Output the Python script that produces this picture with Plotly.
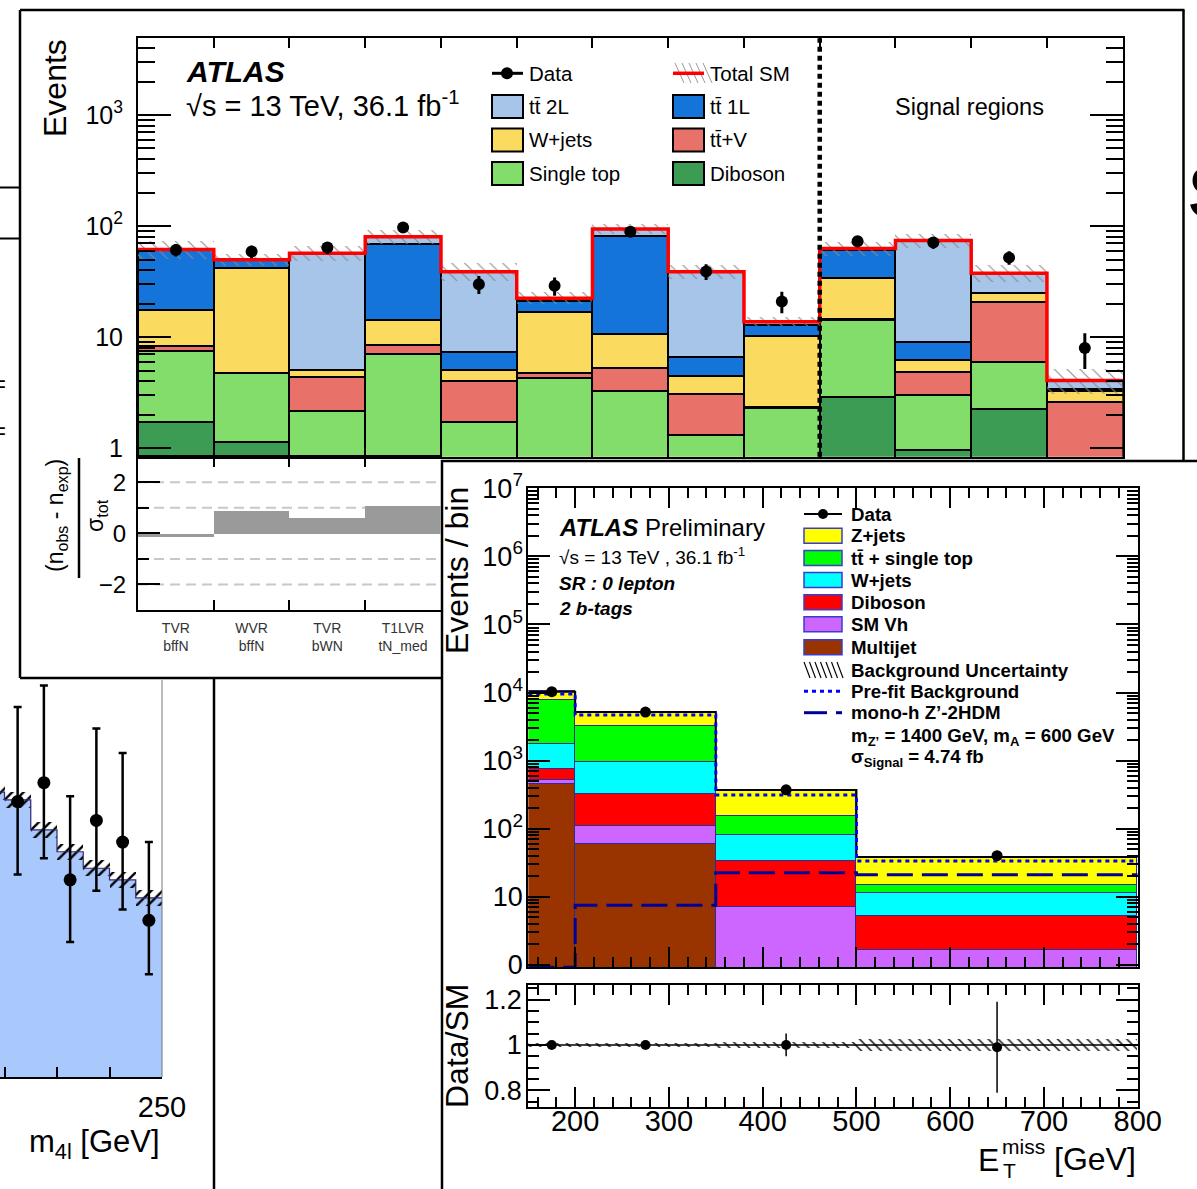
import numpy as np
import plotly.graph_objects as go

W, H = 1197, 1189
FONT = "Liberation Sans, Arial, Helvetica, sans-serif"


def fx(x):
    return x / W


def fy(y):
    return 1 - y / H


# ---------------- m4l spectrum (partly hidden panel) ----------------
m4l_edges = [215, 220, 225, 230, 235, 240, 245, 250]
m4l_bkg = [10.55, 10.26, 9.15, 8.34, 7.73, 7.30, 6.63]
m4l_bkg_unc = [0.30, 0.30, 0.30, 0.30, 0.30, 0.30, 0.30]
m4l_data_x = [222.5, 227.5, 232.5, 237.5, 242.5, 247.5]
m4l_data = [10.2, 10.9, 7.3, 9.5, 8.7, 5.8]
m4l_err_up = [3.5, 3.6, 3.1, 3.4, 3.3, 2.9]
m4l_err_dn = [2.7, 2.8, 2.3, 2.6, 2.5, 2.0]

# ---------------- stop 1L: validation + signal regions ----------------
sr_data = [61, 59, 64, 97, 30, 29, 89, 39, 21, 73, 71, 52, 8]
sr_diboson = [1.70, 1.13, 0.50, 0.50, 0.40, 0.40, 0.40, 0.30, 0.30, 2.90, 0.95, 2.25, 0.20]
sr_singletop = [5.71, 3.60, 1.67, 6.50, 1.30, 3.87, 2.83, 1.02, 1.99, 11.4, 2.07, 3.65, 0.50]
sr_ttv = [0.81, 0.05, 2.19, 1.51, 2.28, 0.46, 2.02, 1.74, 0.05, 0.05, 1.78, 14.7, 1.87]
sr_wjets = [9.38, 36.9, 0.64, 5.59, 1.02, 12.0, 5.35, 1.36, 7.76, 19.5, 1.44, 4.20, 0.71]
sr_tt1l = [43.8, 7.20, 0.02, 54.9, 2.26, 4.50, 69.7, 2.17, 2.80, 27.1, 2.75, 0.05, 0.15]
sr_tt2l = [0.30, 1.00, 52.0, 11.3, 31.6, 1.20, 14.0, 32.3, 0.90, 1.80, 65.0, 12.8, 0.65]
sr_unc_frac = [0.18, 0.12, 0.15, 0.15, 0.18, 0.12, 0.10, 0.15, 0.10, 0.14, 0.15, 0.18, 0.25]
vr_labels = ["TVR<br>bffN", "WVR<br>bffN", "TVR<br>bWN", "T1LVR<br>tN_med"]
vr_pulls = [-0.13, 0.89, 0.61, 1.07]

# ---------------- mono-h 0 lepton, 2 b-tags ----------------
met_edges = [150, 200, 350, 500, 800]
met_multijet = [453, 59.4, 0.0, 0.0]
met_smvh = [53, 50.6, 6.9, 1.64]
met_diboson = [245, 209, 25.8, 3.56]
met_wjets = [983, 623, 47.1, 6.1]
met_ttst = [6026, 2198, 70.2, 3.5]
met_zjets = [2530, 2020, 220, 23.5]
met_data = [10300, 5150, 372, 40]
met_prefit = [9500, 4670, 312, 33.5]
met_signal = [0.0, 7.5, 22.5, 21.0]
met_ratio = [1.00, 1.00, 1.00, 0.99]
met_ratio_err = [0.01, 0.014, 0.05, 0.20]
met_ratio_unc = [0.008, 0.008, 0.015, 0.025]

fig = go.Figure()

# ======== m4l panel ========
m4l_c = [(a + b) / 2 for a, b in zip(m4l_edges[:-1], m4l_edges[1:])]
fig.add_trace(go.Bar(x=m4l_c, y=m4l_bkg, width=5, xaxis="x", yaxis="y",
                     marker=dict(color="#a9c8fb", line=dict(width=0))))
fig.add_trace(go.Bar(x=m4l_c, y=[2 * u for u in m4l_bkg_unc],
                     base=[b - u for b, u in zip(m4l_bkg, m4l_bkg_unc)],
                     width=5, xaxis="x", yaxis="y",
                     marker=dict(color="rgba(0,0,0,0)", line=dict(width=0),
                                 pattern=dict(shape="/", fgcolor="black", bgcolor="rgba(0,0,0,0)",
                                              size=8, solidity=0.3, fillmode="replace"))))
fig.add_trace(go.Scatter(x=m4l_edges, y=m4l_bkg + [m4l_bkg[-1]], mode="lines", xaxis="x", yaxis="y",
                         line=dict(shape="hv", color="#302a6e", width=1.2)))
fig.add_trace(go.Scatter(x=m4l_data_x, y=m4l_data, mode="markers", xaxis="x", yaxis="y",
                         marker=dict(color="black", size=13),
                         error_y=dict(type="data", symmetric=False, array=m4l_err_up,
                                      arrayminus=m4l_err_dn, thickness=2.5, width=4, color="black")))

# ======== stop search panel ========
nb = len(sr_data)
centres = [i + 0.5 for i in range(nb)]
stack_top = [
    (sr_diboson, "#3c9c53"),
    (sr_singletop, "#82dd6a"),
    (sr_ttv, "#e8716a"),
    (sr_wjets, "#fbdb5f"),
    (sr_tt1l, "#1474da"),
    (sr_tt2l, "#a6c5e9"),
]
for vals, col in stack_top:
    fig.add_trace(go.Bar(x=centres, y=vals, width=1, xaxis="x2", yaxis="y2",
                         marker=dict(color=col, line=dict(color="black", width=2))))
sr_total = [sum(v) for v in zip(sr_diboson, sr_singletop, sr_ttv, sr_wjets, sr_tt1l, sr_tt2l)]
sr_unc = [t * f for t, f in zip(sr_total, sr_unc_frac)]
fig.add_trace(go.Bar(x=centres, y=[2 * u for u in sr_unc], base=[t - u for t, u in zip(sr_total, sr_unc)],
                     width=1, xaxis="x2", yaxis="y2",
                     marker=dict(color="rgba(0,0,0,0)", line=dict(width=0),
                                 pattern=dict(shape="\\", fgcolor="#8a8a8a", bgcolor="rgba(0,0,0,0)",
                                              size=9, solidity=0.12, fillmode="replace"))))
fig.add_trace(go.Scatter(x=list(range(nb + 1)), y=sr_total + [sr_total[-1]], mode="lines",
                         xaxis="x2", yaxis="y2", line=dict(shape="hv", color="#ff0000", width=3.5)))
fig.add_trace(go.Scatter(x=centres, y=sr_data, mode="markers", xaxis="x2", yaxis="y2",
                         marker=dict(color="black", size=12),
                         error_y=dict(type="data", array=[np.sqrt(n) for n in sr_data],
                                      thickness=3, width=0, color="black")))
# pulls
fig.add_trace(go.Bar(x=[i + 0.5 for i in range(len(vr_pulls))], y=vr_pulls, width=1,
                     xaxis="x3", yaxis="y3", marker=dict(color="#9a9a9a", line=dict(width=0))))

# ======== mono-h panel ========
mc = [(a + b) / 2 for a, b in zip(met_edges[:-1], met_edges[1:])]
mw = [b - a for a, b in zip(met_edges[:-1], met_edges[1:])]
stack_met = [
    (met_multijet, "#993300"),
    (met_smvh, "#cc66ff"),
    (met_diboson, "#ff0000"),
    (met_wjets, "#00ffff"),
    (met_ttst, "#00ff00"),
    (met_zjets, "#ffff00"),
]
for vals, col in stack_met:
    fig.add_trace(go.Bar(x=mc, y=vals, width=mw, xaxis="x4", yaxis="y4",
                         marker=dict(color=col, line=dict(color="#2b2b9a", width=1))))
met_total = [sum(v) for v in zip(met_multijet, met_smvh, met_diboson, met_wjets, met_ttst, met_zjets)]
ymin4 = 10 ** -0.037
fig.add_trace(go.Scatter(x=met_edges, y=met_total + [met_total[-1]], mode="lines", xaxis="x4", yaxis="y4",
                         line=dict(shape="hv", color="black", width=2)))
fig.add_trace(go.Scatter(x=met_edges, y=met_prefit + [met_prefit[-1]], mode="lines", xaxis="x4", yaxis="y4",
                         line=dict(shape="hv", color="#0000ff", width=3, dash="4px,4px")))
sig_plot = [max(s, ymin4 * 1.005) for s in met_signal]
fig.add_trace(go.Scatter(x=met_edges, y=sig_plot + [sig_plot[-1]], mode="lines", xaxis="x4", yaxis="y4",
                         line=dict(shape="hv", color="#000099", width=3, dash="26px,9px")))
fig.add_trace(go.Scatter(x=mc, y=met_data, mode="markers", xaxis="x4", yaxis="y4",
                         marker=dict(color="black", size=11),
                         error_y=dict(type="data", array=[np.sqrt(n) for n in met_data],
                                      thickness=1.5, width=0, color="black")))
# ratio
fig.add_trace(go.Bar(x=mc, y=[2 * u for u in met_ratio_unc], base=[1 - u for u in met_ratio_unc],
                     width=mw, xaxis="x5", yaxis="y5",
                     marker=dict(color="rgba(0,0,0,0)", line=dict(width=0),
                                 pattern=dict(shape="\\", fgcolor="black", bgcolor="rgba(0,0,0,0)",
                                              size=7, solidity=0.2, fillmode="replace"))))
fig.add_trace(go.Scatter(x=[150, 800], y=[1, 1], mode="lines", xaxis="x5", yaxis="y5",
                         line=dict(color="black", width=1.5)))
fig.add_trace(go.Scatter(x=mc, y=met_ratio, mode="markers", xaxis="x5", yaxis="y5",
                         marker=dict(color="black", size=10),
                         error_y=dict(type="data", array=met_ratio_err, thickness=1.5, width=0, color="black")))


# ======== axes ========
def ax(**kw):
    base = dict(showgrid=False, zeroline=False, showline=True, linecolor="black", linewidth=2,
                ticks="inside", tickcolor="black", tickwidth=2, mirror="ticks",
                tickfont=dict(family=FONT, size=25, color="black"))
    base.update(kw)
    return base


log_minor_top = [m * 10 ** d for d in range(0, 4) for m in range(2, 10) if m * 10 ** d < 4900]
log_minor_met = [m * 10 ** d for d in range(0, 7) for m in range(2, 10)]
met_minor_x = [v for v in range(160, 800, 20) if v % 100 != 0]

layout_axes = dict(
    xaxis=ax(domain=[0, fx(162)], range=[250 - 162 / 5.25, 250], anchor="y", mirror=False,
             tickvals=[250], ticktext=["250"], ticklen=23, tickwidth=1.5,
             minor=dict(tickvals=[220, 230, 240], ticklen=10, ticks="inside", tickcolor="black", tickwidth=1.5),
             tickfont=dict(family=FONT, size=29, color="black"), ticklabelstandoff=3),
    yaxis=dict(domain=[fy(1077), fy(680)], range=[0, 14.7], anchor="x", visible=False),

    xaxis2=ax(domain=[fx(138), fx(1122.7)], range=[0, nb], anchor="y2",
              tickvals=list(range(1, nb)), ticklen=10, showticklabels=False),
    yaxis2=ax(domain=[fy(456.7), fy(38.3)], type="log", range=[-0.0756, 3.690], anchor="x2",
              tickvals=[1, 10, 100, 1000], ticktext=["1", "10", "10<sup>2</sup>", "10<sup>3</sup>"],
              ticklen=33, ticklabelstandoff=8,
              minor=dict(tickvals=log_minor_top, ticklen=17, ticks="inside", tickcolor="black", tickwidth=2)),

    xaxis3=ax(domain=[fx(138), fx(440.8)], range=[0, 4], anchor="y3",
              tickvals=[i + 0.5 for i in range(4)], ticktext=vr_labels, ticklen=0,
              tickfont=dict(family=FONT, size=14, color="#333333"), ticklabelstandoff=4,
              minor=dict(tickvals=[1, 2, 3], ticklen=10, ticks="inside", tickcolor="black", tickwidth=2)),
    yaxis3=ax(domain=[fy(610), fy(456.7)], range=[-3, 3], anchor="x3", mirror=False,
              tickvals=[-2, 0, 2], ticktext=["\u22122", "0", "2"], ticklen=22, ticklabelstandoff=5,
              tickfont=dict(family=FONT, size=24, color="black"),
              minor=dict(tickvals=[-1, 1], ticklen=11, ticks="inside", tickcolor="black", tickwidth=2)),

    xaxis4=ax(domain=[fx(528.3), fx(1137.7)], range=[150, 800], anchor="y4",
              tickvals=list(range(200, 801, 100)), ticklen=20, tickwidth=1.5, showticklabels=False,
              minor=dict(tickvals=met_minor_x, ticklen=10, ticks="inside", tickcolor="black", tickwidth=1.5)),
    yaxis4=ax(domain=[fy(967.3), fy(488.3)], type="log", range=[-0.037, 7.0], anchor="x4",
              tickvals=[10 ** k for k in range(0, 8)],
              ticktext=["0", "10"] + ["10<sup>%d</sup>" % k for k in range(2, 8)],
              ticklen=22, tickwidth=1.5, ticklabelstandoff=-2,
              tickfont=dict(family=FONT, size=27, color="black"),
              minor=dict(tickvals=log_minor_met, ticklen=11, ticks="inside", tickcolor="black", tickwidth=1.5)),

    xaxis5=ax(domain=[fx(528.3), fx(1137.7)], range=[150, 800], anchor="y5",
              tickvals=list(range(200, 801, 100)), ticklen=20, tickwidth=1.5,
              tickfont=dict(family=FONT, size=29, color="black"), ticklabelstandoff=-13,
              minor=dict(tickvals=met_minor_x, ticklen=10, ticks="inside", tickcolor="black", tickwidth=1.5)),
    yaxis5=ax(domain=[fy(1107), fy(985)], range=[0.727, 1.264], anchor="x5",
              tickvals=[0.8, 1.0, 1.2], ticktext=["0.8", "1", "1.2"], ticklen=22, tickwidth=1.5,
              ticklabelstandoff=-1, tickfont=dict(family=FONT, size=27, color="black"),
              minor=dict(tickvals=[0.75, 0.85, 0.9, 0.95, 1.05, 1.1, 1.15, 1.25], ticklen=11,
                         ticks="inside", tickcolor="black", tickwidth=1.5)),
)

# ======== frames, guides and legend swatches ========
shapes = []


def seg(x0, y0, x1, y1, color="black", width=2, dash=None, layer="above"):
    line = dict(color=color, width=width)
    if dash:
        line["dash"] = dash
    shapes.append(dict(type="line", xref="paper", yref="paper", x0=fx(x0), y0=fy(y0), x1=fx(x1), y1=fy(y1),
                       line=line, layer=layer))


def box(x0, y0, x1, y1, fill, color="black", width=2, layer="above"):
    shapes.append(dict(type="rect", xref="paper", yref="paper", x0=fx(x0), y0=fy(y0), x1=fx(x1), y1=fy(y1),
                       fillcolor=fill, line=dict(color=color, width=width), layer=layer))


# mono-h panel sheet
box(442, 461, 1210, 1200, "white", width=2.5, layer="below")
# stop panel outline (lower right part sits beneath the mono-h sheet)
seg(20, 10, 1184.5, 10, width=2.5)
seg(20, 10, 20, 678, width=2.5)
seg(20, 678, 442, 678, width=2.5)
seg(1183.5, 10, 1183.5, 461, width=2.5)
# m4l panel frame pieces
seg(214, 678, 214, 1195, width=2.5)
seg(162, 680, 162, 1077, color="#777777", width=1)
seg(0, 187.5, 19, 187.5, width=2)
seg(0, 238.5, 19, 238.5, width=2)
# signal-region separator
shapes.append(dict(type="line", xref="x2", yref="y2 domain", x0=9, x1=9, y0=0, y1=1,
                   line=dict(color="black", width=4.5, dash="5px,4px"), layer="above"))
# pull reference lines
for v in [-2, -1, 1, 2]:
    shapes.append(dict(type="line", xref="x3", yref="y3", x0=0, x1=4, y0=v, y1=v,
                       line=dict(color="#c8c8c8", width=2, dash="10px,6px"), layer="below"))
# fraction bar of the pull axis title
seg(79, 458, 79, 578, width=2.5)

# stop legend
seg(492, 73.3, 523, 73.3, width=3)
shapes.append(dict(type="circle", xref="paper", yref="paper", x0=fx(501), x1=fx(513), y0=fy(67.3), y1=fy(79.3),
                   fillcolor="black", line=dict(color="black", width=0)))
for k in range(5):
    xs = 675 + 7 * k
    seg(xs, 63, xs + 9, 83, color="#9a9a9a", width=1)
seg(673, 73.3, 704, 73.3, color="#ff0000", width=3.5)
leg_boxes = [(492, 106.5, "#a6c5e9"), (492, 140, "#fbdb5f"), (492, 173.5, "#82dd6a"),
             (673, 106.5, "#1474da"), (673, 140, "#e8716a"), (673, 173.5, "#3c9c53")]
for x0, yc, col in leg_boxes:
    box(x0, yc - 11.5, x0 + 31, yc + 11.5, col, width=2)

# mono-h legend
seg(804, 514, 842, 514, width=2)
shapes.append(dict(type="circle", xref="paper", yref="paper", x0=fx(818), x1=fx(828), y0=fy(509), y1=fy(519),
                   fillcolor="black", line=dict(color="black", width=0)))
met_leg = [(535.7, "#ffff00"), (558, "#00ff00"), (580, "#00ffff"), (602.3, "#ff0000"),
           (624.3, "#cc66ff"), (647.3, "#993300")]
for yc, col in met_leg:
    box(804, yc - 7.5, 842, yc + 7.5, col, color="#3b3bd0", width=1.5)
for k in range(7):
    xs = 804 + 5.5 * k
    seg(xs, 662, xs + 6, 678, width=1.2)
seg(804, 691.3, 842, 691.3, color="#0000ff", width=3, dash="4px,4px")
seg(804, 712.7, 827, 712.7, color="#000099", width=3)
seg(836, 712.7, 842, 712.7, color="#000099", width=3)

# ======== text ========
ann = []


def txt(x, y, s, size, xanchor="left", yanchor="middle", angle=0, color="black", family=FONT):
    ann.append(dict(x=fx(x), y=fy(y), xref="paper", yref="paper", text=s, showarrow=False,
                    xanchor=xanchor, yanchor=yanchor, textangle=angle,
                    font=dict(family=family, size=size, color=color)))


# stop panel
txt(55, 88, "Events", 32, xanchor="center", angle=-90)
txt(184, 72, "<b><i>ATLAS</i></b>", 30)
txt(184, 104, "\u221as = 13 TeV, 36.1 fb<sup>-1</sup>", 29)
for x0, yc, s in [(527, 73.3, "Data"), (527, 106.5, "tt\u0304 2L"), (527, 140, "W+jets"),
                  (527, 173.5, "Single top"), (708, 73.3, "Total SM"), (708, 106.5, "tt\u0304 1L"),
                  (708, 140, "tt\u0304+V"), (708, 173.5, "Diboson")]:
    txt(x0, yc, s, 20.5)
txt(969, 107, "Signal regions", 23.5, xanchor="center")
txt(56, 516, "(n<sub>obs</sub> - n<sub>exp</sub>)", 23, xanchor="center", angle=-90)
txt(96, 516, "\u03c3<sub>tot</sub>", 23, xanchor="center", angle=-90)

# m4l panel
txt(162, 1144, "m<sub>4l</sub> [GeV]", 31, xanchor="right")
txt(8, 384, "=", 24, xanchor="right")
txt(8, 431, "=", 24, xanchor="right")
txt(1186, 193, "<b>S</b>", 74)

# mono-h panel
txt(557, 527, "<b><i>ATLAS</i></b> Preliminary", 24)
txt(557, 556, "\u221as = 13 TeV , 36.1 fb<sup>-1</sup>", 19)
txt(557, 584, "<b><i>SR : 0 lepton</i></b>", 19)
txt(557, 608, "<b><i>2 b-tags</i></b>", 19)
for yc, s in [(514, "Data"), (535.7, "Z+jets"), (558, "tt\u0304 + single top"), (580, "W+jets"),
              (602.3, "Diboson"), (624.3, "SM Vh"), (647.3, "Multijet"), (670, "Background Uncertainty"),
              (691.3, "Pre-fit Background"), (712.7, "mono-h Z\u2019-2HDM")]:
    txt(849, yc, "<b>%s</b>" % s, 18.7)
txt(849, 737, "<b>m<sub>Z\u2019</sub> = 1400 GeV, m<sub>A</sub> = 600 GeV</b>", 18.7)
txt(849, 758, "<b>\u03c3<sub>Signal</sub></b><b> = 4.74 fb</b>", 18.7)
txt(457, 571, "Events / bin", 32, xanchor="center", angle=-90)
txt(457, 1046, "Data/SM", 32, xanchor="center", angle=-90)
txt(1001, 1160, "E", 32, xanchor="right")
txt(1001, 1170, "T", 21)
txt(1000, 1146, "miss", 21)
txt(1138, 1159, "[GeV]", 32, xanchor="right")

fig.update_layout(
    width=W, height=H, autosize=False,
    margin=dict(l=0, r=0, t=0, b=0, pad=0, autoexpand=False),
    paper_bgcolor="white", plot_bgcolor="white",
    barmode="stack", bargap=0, showlegend=False,
    font=dict(family=FONT, color="black"),
    shapes=shapes, annotations=ann,
    **layout_axes,
)

fig.write_html("out.html")
